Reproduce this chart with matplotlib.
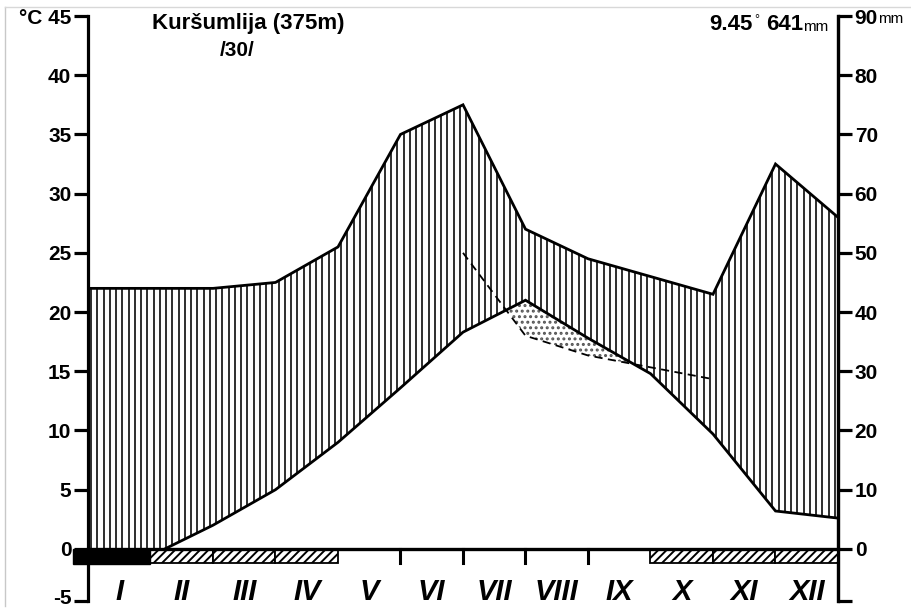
import numpy as np
import matplotlib
matplotlib.use('Agg')
import matplotlib.pyplot as plt
import matplotlib.transforms as mtransforms
from matplotlib.patches import Rectangle
from matplotlib.lines import Line2D

plt.rcParams['font.family'] = ['Liberation Sans', 'DejaVu Sans']
plt.rcParams['hatch.linewidth'] = 1.4

# ---- data ----
months = ['I', 'II', 'III', 'IV', 'V', 'VI', 'VII', 'VIII', 'IX', 'X', 'XI', 'XII']
temp = [-0.6, 2.0, 5.0, 9.0, 13.6, 18.3, 21.0, 17.8, 14.8, 9.7, 3.2, 2.6]      # °C
precip = [44, 44, 45, 51, 70, 75, 54, 49, 46, 43, 65, 56]                      # mm
frost_certain = ['I']
frost_possible = ['II', 'III', 'IV', 'X', 'XI', 'XII']
dashed_months = ['VI', 'VII', 'VIII', 'IX', 'X']
station = 'Kuršumlija (375m)'
years = '/30/'
mean_temp = '9.45'
annual_precip = '641'
temp_ticks = [0, 5, 10, 15, 20, 25, 30, 35, 40, 45]
precip_ticks = [0, 10, 20, 30, 40, 50, 60, 70, 80, 90]

YBOT = -4.4
# ---- figure ----
fig = plt.figure(figsize=(9.12, 6.08), dpi=100)
ax = fig.add_axes([88 / 912, 7 / 608, 750 / 912, 585 / 608])
ax.set_xlim(0, 12)
ax.set_ylim(YBOT, 45)

x = np.arange(0, 13)
T = np.array([temp[0]] + temp, dtype=float)
P = np.array([precip[0]] + precip, dtype=float)

# humid area: vertical lines between precipitation (1:2) and temperature
xs = np.arange(0.05, 12, 0.1)
top = np.interp(xs, x, P / 2)
bot = np.maximum(np.interp(xs, x, T), 0)
ax.vlines(xs, bot, top, color='black', lw=1.15)

# dotted dry area: temperature above precipitation (1:3)
idx = [months.index(m) + 1 for m in dashed_months]
xd = np.linspace(idx[0], idx[-1], 500)
td = np.interp(xd, x, T)
pd3 = np.interp(xd, x, P / 3)
ax.fill_between(xd, pd3, td, where=td > pd3, interpolate=True,
                facecolor='white', edgecolor='#555555', hatch='...', lw=0)
ax.plot(x[idx], P[idx] / 3, color='black', lw=1.3, dashes=(4.5, 3))

# precipitation and temperature curves
ax.plot(x, P / 2, color='black', lw=2.0, solid_joinstyle='miter')
tl, = ax.plot(x, T, color='black', lw=2.0, solid_joinstyle='miter')
clip = Rectangle((0, 0), 12, 50, transform=ax.transData)
tl.set_clip_path(clip)

# frost boxes
for m in frost_possible:
    i = months.index(m)
    ax.add_patch(Rectangle((i, -1.2), 1, 1.2, facecolor='white', edgecolor='black',
                           hatch='////', lw=1.3, zorder=3))
for m in frost_certain:
    i = months.index(m)
    ax.add_patch(Rectangle((i - 0.24, -1.3), 1.24, 1.3, facecolor='black',
                           edgecolor='black', lw=1, zorder=3, clip_on=False))

# zero line and month ticks
ax.plot([0, 12], [0, 0], color='black', lw=2.4, zorder=4, clip_on=False)
box_idx = [months.index(m) for m in frost_possible + frost_certain]
for b in range(1, 12):
    if (b - 1) not in box_idx and b not in box_idx:
        ax.plot([b, b], [-1.2, 0], color='black', lw=2.2, zorder=4)

# month labels
for i, m in enumerate(months):
    ax.text(i + 0.5, -3.6, m, ha='center', va='center', fontsize=21,
            fontweight='bold', fontstyle='italic')

# axes styling
for s in ['top', 'bottom']:
    ax.spines[s].set_visible(False)
ax.spines['left'].set_linewidth(2.3)
ax.spines['right'].set_linewidth(2.3)
ax.set_xticks([])
lt = [YBOT] + temp_ticks
ll = ['-5'] + [str(t) for t in temp_ticks[:-1]] + ['°C ' + str(temp_ticks[-1])]
ax.set_yticks(lt)
ax.set_yticklabels(ll)
ax.tick_params(axis='y', direction='out', length=10, width=2.3, labelsize=15, pad=2)
for lab in ax.get_yticklabels():
    lab.set_fontweight('bold')
# lift the bottom "-5" label a little (axis end)
lab_m5 = ax.get_yticklabels()[0]
lab_m5.set_transform(lab_m5.get_transform() +
                     mtransforms.ScaledTranslation(0, 5 / 100, fig.dpi_scale_trans))

ax2 = ax.twinx()
ax2.set_ylim(YBOT * 2, 90)
for s in ['top', 'bottom', 'left']:
    ax2.spines[s].set_visible(False)
ax2.spines['right'].set_linewidth(2.3)
ax2.set_yticks([YBOT * 2] + precip_ticks)
ax2.set_yticklabels([''] + [str(p) for p in precip_ticks])
ax2.tick_params(axis='y', direction='out', length=10, width=2.3, labelsize=15, pad=2)
for lab in ax2.get_yticklabels():
    lab.set_fontweight('bold')

# texts
fig.text(248 / 912, 1 - 24 / 608, station, ha='center', va='center',
         fontsize=16, fontweight='bold')
fig.text(237 / 912, 1 - 51 / 608, years, ha='center', va='center', fontsize=15,
         fontweight='bold')

t1 = fig.text(709 / 912, 1 - 30 / 608, mean_temp, ha='left', va='baseline',
              fontsize=16, fontweight='bold')
ax.annotate('°', xy=(1, 1), xycoords=t1, ha='left', va='top', fontsize=9,
            xytext=(1, 0), textcoords='offset points', annotation_clip=False)
t3 = ax.annotate(annual_precip, xy=(1, 0), xycoords=t1, ha='left', va='bottom',
                 fontsize=16, fontweight='bold', xytext=(10, 0), textcoords='offset points',
                 annotation_clip=False)
ax.annotate('mm', xy=(1, 0), xycoords=t3, ha='left', va='bottom', fontsize=11,
            xytext=(0, 1), textcoords='offset points', annotation_clip=False)

# "mm" after the top right tick label
fig.canvas.draw()
lab90 = [t for t in ax2.get_yticklabels() if t.get_text() == str(precip_ticks[-1])][0]
ax2.annotate('mm', xy=(1, 0), xycoords=lab90, ha='left', va='bottom', fontsize=11,
             xytext=(0, 1), textcoords='offset points', annotation_clip=False)

# light outer frame
fig.add_artist(Line2D([5 / 912, 5 / 912], [0.003, 1 - 7 / 608], color='#c8c8c8', lw=1))
fig.add_artist(Line2D([5 / 912, 1], [1 - 7 / 608, 1 - 7 / 608], color='#d8d8d8', lw=1))

fig.savefig('out.png', dpi=100)
